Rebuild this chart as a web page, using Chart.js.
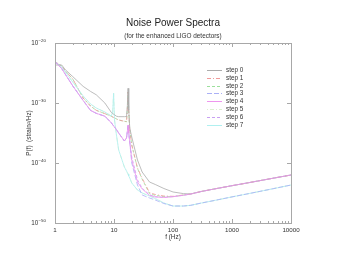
<!DOCTYPE html>
<html>
<head>
<meta charset="utf-8">
<script src="https://cdn.jsdelivr.net/npm/chart.js@4.4.1/dist/chart.umd.min.js"></script>
<style>
html,body{margin:0;padding:0;background:#fff}
#wrap{width:339px;height:262px}
</style>
</head>
<body>
<div id="wrap"><canvas id="c"></canvas></div>
<script>
/* noise spectra, values are log10 of P(f) */
const FREQ=[1,1.3,1.5,2,3,4,5,7,9,9.5,9.85,10.2,11,12,15,16.3,16.8,17.3,17.8,18.5,20,25,30,40,50,70,100,150,200,300,500,1000,2000,5000,10000];
const STEP0=[-23.67,-23.67,-24.47,-25.6,-27.23,-28.07,-28.63,-30.0,-31.57,-31.75,-31.87,-31.97,-32.2,-32.28,-32.28,-32.25,-30.83,-27.55,-31.17,-34.17,-35.67,-39.5,-41.5,-43.17,-43.58,-44.25,-44.83,-45.1,-45.15,-44.75,-44.33,-43.78,-43.25,-42.53,-42.0];
const STEP1=[-23.12,-23.83,-24.67,-26.0,-29.17,-30.5,-31.22,-31.77,-32.22,-32.33,-32.42,-32.48,-32.65,-32.83,-33.05,-33.12,-31.17,-28.17,-31.5,-34.5,-37.0,-40.83,-42.55,-44.92,-45.25,-45.5,-45.55,-45.33,-45.17,-44.75,-44.33,-43.78,-43.25,-42.53,-42.0];
const STEP2=[-23.12,-23.83,-24.67,-26.0,-29.17,-30.5,-31.22,-31.77,-32.22,-32.33,-32.42,-32.48,-32.65,-32.83,-33.05,-33.12,-31.17,-28.17,-31.5,-34.5,-37.0,-40.9,-42.7,-45.1,-45.4,-45.6,-45.6,-45.35,-45.17,-44.75,-44.33,-43.78,-43.25,-42.53,-42.0];
const STEP3=[-23.12,-24.27,-25.23,-27.15,-29.58,-31.23,-31.72,-32.2,-33.3,-33.62,-33.82,-34.02,-34.43,-35.0,-36.33,-35.83,-34.83,-33.67,-35.0,-36.5,-40.0,-43.67,-45.33,-45.83,-46.17,-46.75,-47.17,-47.17,-47.05,-46.68,-46.25,-45.65,-45.07,-44.28,-43.67];
const STEP4=[-23.12,-24.27,-25.23,-27.15,-29.58,-31.23,-31.72,-32.2,-33.3,-33.62,-33.82,-34.02,-34.43,-35.0,-36.33,-35.83,-34.83,-33.67,-35.0,-36.5,-39.5,-43.17,-44.33,-45.38,-45.67,-45.75,-45.62,-45.38,-45.17,-44.75,-44.33,-43.78,-43.25,-42.53,-42.0];
const STEP5=[-23.12,-24.0,-24.83,-26.5,-28.83,-30.17,-30.83,-31.5,-32.17,-31.5,-28.38,-32.83,-35.33,-37.83,-40.67,-41.33,-41.58,-41.83,-42.17,-42.5,-43.33,-44.5,-45.0,-45.5,-45.92,-46.67,-47.17,-47.17,-47.05,-46.68,-46.25,-45.65,-45.07,-44.28,-43.67];
const STEP6=[-23.12,-24.27,-25.23,-27.15,-29.58,-31.23,-31.72,-32.2,-33.3,-33.62,-33.82,-34.02,-34.43,-35.0,-36.33,-35.83,-34.83,-33.67,-35.0,-36.5,-39.0,-42.8,-44.2,-45.3,-45.6,-45.72,-45.6,-45.38,-45.17,-44.75,-44.33,-43.78,-43.25,-42.53,-42.0];
const STEP7=[-23.12,-24.0,-24.83,-26.5,-28.83,-30.17,-30.83,-31.5,-32.17,-31.5,-28.38,-32.83,-35.33,-37.83,-40.67,-41.33,-41.58,-41.83,-42.17,-42.5,-43.33,-44.5,-45.0,-45.5,-45.92,-46.67,-47.17,-47.17,-47.05,-46.68,-46.25,-45.65,-45.07,-44.28,-43.67];
const SERIES=[STEP0,STEP1,STEP2,STEP3,STEP4,STEP5,STEP6,STEP7];
const LABELS=['step 0','step 1','step 2','step 3','step 4','step 5','step 6','step 7'];
const X_TICKS=[1,10,100,1000,10000];
const Y_EXP=[-50,-40,-30,-20];

const COLORS=['#acacac','#f09a9a','#9ce09c','#aab0f6','#ee96ee','#dcf0d0','#c8a0f2','#b0f0f0'];
const DASHES=[[],[4,2,1,2],[3,2],[5,2],[],[1,2,4,2],[3,2],[]];
const ORDER=[0,1,1,-1,-2,1,0,0];
const FONT="'Liberation Sans',Arial,sans-serif";
const EDGE='#a8a8a8';

const decor={
  id:'decor',
  afterDraw(chart){
    const c=chart.ctx, a=chart.chartArea, xs=chart.scales.x, ys=chart.scales.y;
    c.save();
    c.strokeStyle=EDGE; c.lineWidth=1;
    c.strokeRect(Math.round(a.left)+.5,Math.round(a.top)+.5,Math.round(a.right-a.left),Math.round(a.bottom-a.top));
    c.beginPath();
    // x ticks, major and minor, bottom and top
    for(let d=1;d<=10000;d*=10){
      for(let m=1;m<10;m++){
        const v=d*m; if(v>10000)break;
        const px=Math.round(xs.getPixelForValue(v))+.5, len=m===1?4:2;
        c.moveTo(px,a.bottom); c.lineTo(px,a.bottom-len);
        c.moveTo(px,a.top); c.lineTo(px,a.top+len);
      }
    }
    Y_EXP.forEach(e=>{
      const py=Math.round(ys.getPixelForValue(Math.pow(10,e)))+.5;
      c.moveTo(a.left,py); c.lineTo(a.left+4,py);
      c.moveTo(a.right,py); c.lineTo(a.right-4,py);
    });
    c.stroke();

    c.fillStyle='#333';
    // y tick labels with superscript exponent
    Y_EXP.forEach(e=>{
      const py=ys.getPixelForValue(Math.pow(10,e));
      const ex='\u2212'+Math.abs(e);
      c.font='4.4px '+FONT; const ew=c.measureText(ex).width;
      c.textBaseline='middle'; c.textAlign='right';
      c.fillText(ex,a.left-9,py-2.6);
      c.font='6.3px '+FONT;
      c.fillText('10',a.left-9-ew-0.3,py);
    });

    c.textAlign='center'; c.textBaseline='middle';
    c.font='10px '+FONT; c.fillStyle='#222';
    c.fillText('Noise Power Spectra',(a.left+a.right)/2,23);
    c.font='6.4px '+FONT; c.fillStyle='#333';
    c.fillText('(for the enhanced LIGO detectors)',(a.left+a.right)/2,36);
    c.fillText('f (Hz)',(a.left+a.right)/2,237.5);
    c.save();
    c.translate(29.5,(a.top+a.bottom)/2); c.rotate(-Math.PI/2);
    c.fillText('P(f)  (strain\u00b2/Hz)',0,0);
    c.restore();

    // key
    c.textAlign='left';
    LABELS.forEach((t,i)=>{
      const y=Math.round(69.7+i*7.9)+.5;
      c.beginPath(); c.strokeStyle=COLORS[i]; c.lineWidth=1; c.setLineDash(DASHES[i]);
      c.moveTo(207,y); c.lineTo(222,y); c.stroke();
      c.setLineDash([]);
      c.fillStyle='#333'; c.fillText(t,226,y);
    });
    c.restore();
  }
};

new Chart(document.getElementById('c'),{
  type:'line',
  data:{datasets:SERIES.map((s,i)=>({
    label:LABELS[i],
    data:FREQ.map((f,j)=>({x:f,y:Math.pow(10,s[j])})),
    borderColor:COLORS[i],borderWidth:0.8,borderDash:DASHES[i],order:ORDER[i],
    pointRadius:0,fill:false,tension:0
  }))},
  options:{
    responsive:true,maintainAspectRatio:false,animation:false,
    layout:{padding:{top:43,right:48,left:0,bottom:0}},
    plugins:{legend:{display:false},title:{display:false},tooltip:{enabled:false}},
    events:[],
    scales:{
      x:{type:'logarithmic',min:1,max:10000,
         grid:{display:false,drawTicks:false},border:{display:false},
         ticks:{color:'#333',font:{family:FONT,size:6.2},padding:4,autoSkip:false,maxRotation:0,callback:v=>String(v)},
         afterBuildTicks:s=>{s.ticks=X_TICKS.map(v=>({value:v}));},
         afterFit:s=>{s.height=39;}},
      y:{type:'logarithmic',min:1e-50,max:1e-20,
         grid:{display:false,drawTicks:false},border:{display:false},
         ticks:{display:false},
         afterBuildTicks:s=>{s.ticks=Y_EXP.map(e=>({value:Math.pow(10,e)}));},
         afterFit:s=>{s.width=55;}}
    }
  },
  plugins:[decor]
});
</script>
</body>
</html>
